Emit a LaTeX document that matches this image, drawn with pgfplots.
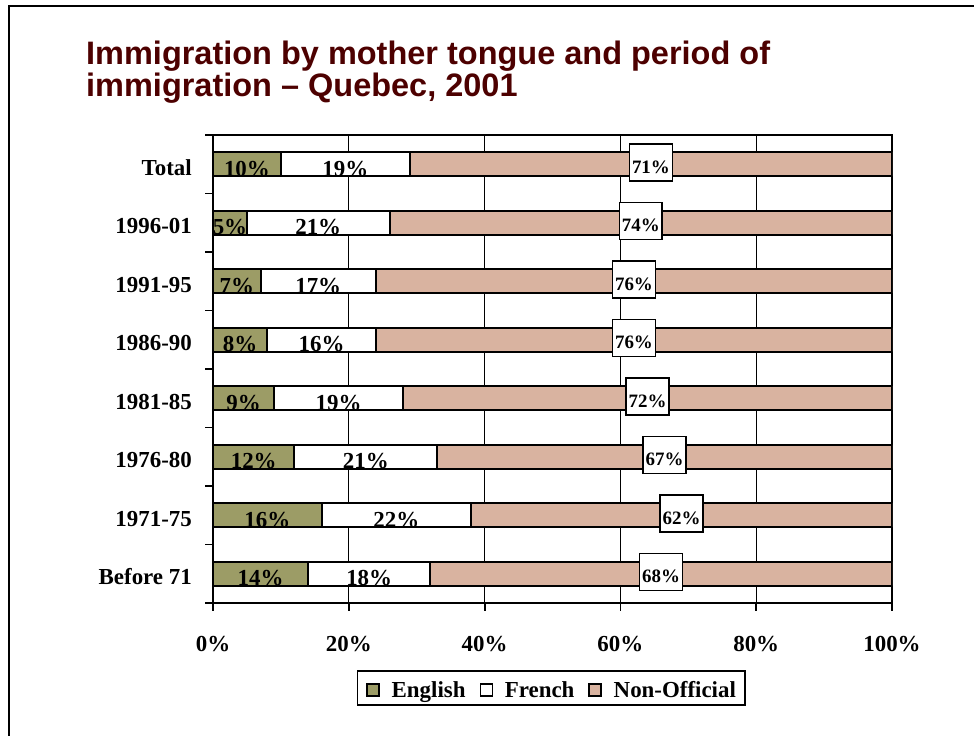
\documentclass[border=0pt]{standalone}
\usepackage{pgfplots}
\pgfplotsset{compat=1.18}
\usepackage{pgfplotstable}
\usepackage{fontspec}
\setmainfont{Liberation Serif}
\newfontfamily\titlefont{Liberation Sans}
\definecolor{engolive}{RGB}{156,156,102}
\definecolor{nonoff}{RGB}{217,179,160}
\definecolor{titlered}{RGB}{77,0,0}

% mother tongue shares (%) by period, bottom row first
\pgfplotstableread{
y eng fre non
0 14 18 68
1 16 22 62
2 12 21 67
3 9 19 72
4 8 16 76
5 7 17 76
6 5 21 74
7 10 19 71
}\imm

\begin{document}
\begin{tikzpicture}[
    lbl/.style={anchor=base, yshift=-12bp, inner sep=0pt, font=\bfseries\fontsize{23}{27}\selectfont},
    nlab/.style={draw=black, fill=white, line width=1.5bp, inner xsep=2.5bp, inner ysep=8bp,
        text height=21bp, text depth=0pt, yshift=1.5bp, font=\bfseries\fontsize{19}{22}\selectfont},
]
\useasboundingbox (0,0) rectangle (974bp,736bp);
\draw[line width=2bp] (9bp,0bp) -- (9bp,730bp) -- (974bp,730bp);
\node[anchor=base west, inner sep=0pt, text=titlered, font=\titlefont\bfseries\fontsize{32.6}{32}\selectfont]
    at (86bp,671bp) {Immigration by mother tongue and period of};
\node[anchor=base west, inner sep=0pt, text=titlered, font=\titlefont\bfseries\fontsize{32.6}{32}\selectfont]
    at (86bp,639bp) {immigration – Quebec, 2001};

\begin{axis}[
    at={(213bp,133bp)}, anchor=south west,
    width=679bp, height=468bp, scale only axis,
    xbar stacked, bar width=24bp,
    xmin=0, xmax=100, ymin=-0.5, ymax=7.5,
    xtick={0,20,...,100},
    xticklabels={0\%,20\%,40\%,60\%,80\%,100\%},
    ytick={-0.5,0.5,...,7.5},
    yticklabels={},
    extra y ticks={0,1,...,7},
    extra y tick labels={Before 71,1971-75,1976-80,1981-85,1986-90,1991-95,1996-01,Total},
    extra y tick style={major tick length=0pt, grid=none},
    tick pos=left, tick align=outside,
    major tick length=8bp,
    tick style={black, line width=1.8bp},
    xmajorgrids, grid style={black, line width=1.3bp},
    axis line style={line width=2bp},
    ticklabel style={inner sep=0pt, font=\bfseries\fontsize{23}{27}\selectfont},
    xticklabel style={anchor=base, yshift=-40bp},
    yticklabel style={anchor=base east, yshift=-11bp, xshift=-21bp},
    legend columns=-1,
    legend style={at={(0.498,-0.1816)}, anchor=center, draw=black, line width=1.5bp,
        inner xsep=9bp, inner ysep=2bp,
        font=\bfseries\fontsize{23}{27}\selectfont,
        nodes={inner sep=0pt, text height=25bp, text depth=5bp},
        /tikz/every odd column/.append style={column sep=12bp},
        /tikz/every even column/.append style={column sep=14bp}},
    legend image code/.code={\draw[#1, draw=black, line width=1.3bp] (0bp,-8bp) rectangle (12bp,4bp);},
]
\addplot[fill=engolive, draw=black, line width=2bp] table[x=eng, y=y] {\imm};
\addlegendentry{English}
\addplot[fill=white, draw=black, line width=2bp] table[x=fre, y=y] {\imm};
\addlegendentry{French}
\addplot[fill=nonoff, draw=black, line width=2bp] table[x=non, y=y] {\imm};
\addlegendentry{Non-Official}

% label anchors: segment centres (English e, French f, Non-Official n)
\coordinate (e0) at (axis cs:7,0);
\coordinate (e1) at (axis cs:8,1);
\coordinate (e2) at (axis cs:6,2);
\coordinate (e3) at (axis cs:4.5,3);
\coordinate (e4) at (axis cs:4,4);
\coordinate (e5) at (axis cs:3.5,5);
\coordinate (e6) at (axis cs:2.5,6);
\coordinate (e7) at (axis cs:5,7);
\coordinate (f0) at (axis cs:23,0);
\coordinate (f1) at (axis cs:27,1);
\coordinate (f2) at (axis cs:22.5,2);
\coordinate (f3) at (axis cs:18.5,3);
\coordinate (f4) at (axis cs:16,4);
\coordinate (f5) at (axis cs:15.5,5);
\coordinate (f6) at (axis cs:15.5,6);
\coordinate (f7) at (axis cs:19.5,7);
\coordinate (n0) at (axis cs:66,0);
\coordinate (n1) at (axis cs:69,1);
\coordinate (n2) at (axis cs:66.5,2);
\coordinate (n3) at (axis cs:64,3);
\coordinate (n4) at (axis cs:62,4);
\coordinate (n5) at (axis cs:62,5);
\coordinate (n6) at (axis cs:63,6);
\coordinate (n7) at (axis cs:64.5,7);
\end{axis}

% English/French labels sit low and are cut off at the bar's lower edge
\foreach \c/\t in {e0/14,e1/16,e2/12,e3/9,e4/8,e5/7,e6/5,e7/10,
                   f0/18,f1/22,f2/21,f3/19,f4/16,f5/17,f6/21,f7/19}{
    \begin{scope}
    \clip (\c) ++(-60bp,-11.5bp) rectangle ++(120bp,23bp);
    \node[lbl] at (\c) {\t\%};
    \end{scope}
}
\foreach \c/\t in {n0/68,n1/62,n2/67,n3/72,n4/76,n5/76,n6/74,n7/71}
    \node[nlab] at (\c) {\t\%};
\end{tikzpicture}
\end{document}
